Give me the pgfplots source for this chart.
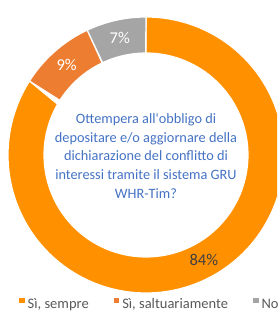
\documentclass[border=0pt]{standalone}
\usepackage{fontspec}
\setmainfont{Carlito}
\usepackage{pgfplots}
\usepackage{pgfplotstable}
\pgfplotsset{compat=1.18}

\definecolor{cA}{RGB}{255,145,0}
\definecolor{cB}{RGB}{237,125,49}
\definecolor{cC}{RGB}{165,165,165}
\definecolor{txtblue}{RGB}{68,114,196}
\definecolor{legtxt}{RGB}{89,89,89}
\definecolor{lbldark}{RGB}{64,64,64}

\pgfplotstableread{
value
84
9
7
}\piedata
\pgfplotstablegetelem{0}{value}\of\piedata\edef\vA{\pgfplotsretval}
\pgfplotstablegetelem{1}{value}\of\piedata\edef\vB{\pgfplotsretval}
\pgfplotstablegetelem{2}{value}\of\piedata\edef\vC{\pgfplotsretval}

\def\cx{146}\def\cy{156}\def\Ro{138}\def\Ri{102}
\pgfmathsetmacro\aA{0}
\pgfmathsetmacro\bA{3.6*\vA}
\pgfmathsetmacro\bB{\bA+3.6*\vB}
\pgfmathsetmacro\bC{\bB+3.6*\vC}
\pgfmathsetmacro\Rm{(\Ro+\Ri)/2}
\pgfmathsetmacro\mA{(\aA+\bA)/2}
\pgfmathsetmacro\mB{(\bA+\bB)/2}
\pgfmathsetmacro\mC{(\bB+\bC)/2}
\pgfmathsetmacro\xA{\cx+\Rm*sin(\mA)}\pgfmathsetmacro\yA{\cy+\Rm*cos(\mA)}
\pgfmathsetmacro\xB{\cx+\Rm*sin(\mB)}\pgfmathsetmacro\yB{\cy+\Rm*cos(\mB)}
\pgfmathsetmacro\xC{\cx+\Rm*sin(\mC)}\pgfmathsetmacro\yC{\cy+\Rm*cos(\mC)}

\newcommand{\sector}[3]{%
\addplot[fill=#3, draw=white, line width=1.2pt, line join=round, domain=0:2, samples=241, variable=\t]
 ({\cx + ((\t<=1) ? \Ro : \Ri)*sin((\t<=1) ? (#1+(#2-#1)*\t) : (#2-(#2-#1)*(\t-1)))},
  {\cy + ((\t<=1) ? \Ro : \Ri)*cos((\t<=1) ? (#1+(#2-#1)*\t) : (#2-(#2-#1)*(\t-1)))}) -- cycle;
}

\begin{document}
\begin{tikzpicture}
\useasboundingbox (0,0) rectangle (277pt,311pt);
\clip (0,0) rectangle (277pt,311pt);
\begin{axis}[
  hide axis, scale only axis, width=277pt, height=311pt,
  xmin=0, xmax=277, ymin=0, ymax=311, clip=true,
  legend columns=3,
  legend image code/.code={\fill[#1,draw=none] (0pt,1.5pt) rectangle (5.5pt,7pt);},
  legend style={at={(axis cs:19,7)}, anchor=west, draw=none, fill=none, inner sep=0pt,
    font=\fontsize{14.5}{17}\selectfont, text=legtxt,
    /tikz/every even column/.append style={column sep=22pt},
    cells={anchor=west}, nodes={inner xsep=3pt, inner ysep=0pt}},
]
\sector{\aA}{\bA}{cA}
\addlegendentry{Sì, sempre}
\sector{\bA}{\bB}{cB}
\addlegendentry{Sì, saltuariamente}
\sector{\bB}{\bC}{cC}
\addlegendentry{No}
\node[text=lbldark, font=\fontsize{16.5}{18}\selectfont] at (axis cs:\xA,\yA) {\vA\%};
\node[text=white, font=\fontsize{16.5}{18}\selectfont] at (axis cs:\xB,\yB) {\vB\%};
\node[text=white, font=\fontsize{16.5}{18}\selectfont] at (axis cs:\xC,\yC) {\vC\%};
\node[align=center, text=txtblue, font=\fontsize{14.3}{18.8}\selectfont] at (axis cs:146,155) {Ottempera all\textquotesingle obbligo di\\depositare e/o aggiornare della\\dichiarazione del conflitto di\\interessi tramite il sistema GRU\\WHR-Tim?};
\end{axis}
\end{tikzpicture}
\end{document}
